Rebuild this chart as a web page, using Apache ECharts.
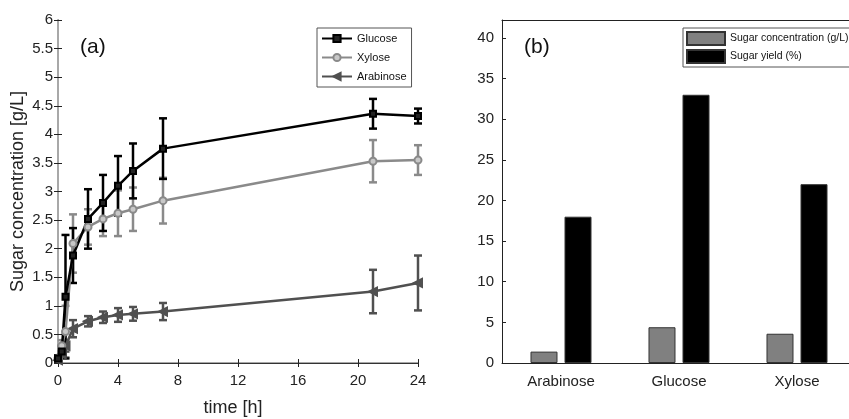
<!DOCTYPE html>
<html>
<head>
<meta charset="utf-8">
<script src="https://cdn.jsdelivr.net/npm/echarts@6/dist/echarts.min.js"></script>
<style>
  html, body { margin: 0; padding: 0; background: #fff; }
  #chart { width: 849px; height: 419px; }
</style>
</head>
<body>
<div id="chart"></div>
<script>
// time course (panel a)
var times = [0, 0.25, 0.5, 1, 2, 3, 4, 5, 7, 21, 24];
var glucose = [0.08, 0.2, 1.16, 1.88, 2.52, 2.80, 3.10, 3.36, 3.75, 4.36, 4.32];
var glucoseErr = [0.05, 0.1, 1.08, 0.48, 0.52, 0.49, 0.52, 0.48, 0.53, 0.26, 0.13];
var xylose = [0.08, 0.3, 0.55, 2.09, 2.38, 2.52, 2.62, 2.69, 2.84, 3.53, 3.55];
var xyloseErr = [0.05, 0.1, 0.45, 0.51, 0.31, 0.3, 0.4, 0.38, 0.4, 0.37, 0.26];
var arabinose = [0.05, 0.15, 0.3, 0.6, 0.73, 0.80, 0.84, 0.86, 0.90, 1.25, 1.40];
var arabinoseErr = [0.03, 0.05, 0.1, 0.15, 0.09, 0.1, 0.12, 0.12, 0.15, 0.38, 0.48];

// panel b
var sugars = ['Arabinose', 'Glucose', 'Xylose'];
var sugarConc = [1.4, 4.4, 3.6];
var sugarYield = [18, 33, 22];

var FONT = 'Liberation Sans, Arial, Helvetica, sans-serif';
var chart = echarts.init(document.getElementById('chart'));

function pairs(ys) {
  return times.map(function (t, i) { return [t, ys[i]]; });
}
function errData(ys, es) {
  return times.map(function (t, i) { return [t, ys[i] - es[i], ys[i] + es[i]]; });
}
function errSeries(ys, es, color) {
  return {
    type: 'custom',
    xAxisIndex: 0, yAxisIndex: 0,
    data: errData(ys, es),
    encode: { x: 0, y: [1, 2] },
    z: 3,
    renderItem: function (params, api) {
      var lo = api.coord([api.value(0), api.value(1)]);
      var hi = api.coord([api.value(0), api.value(2)]);
      var w = 4;
      var st = { stroke: color, lineWidth: 2.5 };
      return {
        type: 'group',
        children: [
          { type: 'line', shape: { x1: lo[0], y1: lo[1], x2: hi[0], y2: hi[1] }, style: st },
          { type: 'line', shape: { x1: lo[0] - w, y1: lo[1], x2: lo[0] + w, y2: lo[1] }, style: st },
          { type: 'line', shape: { x1: hi[0] - w, y1: hi[1], x2: hi[0] + w, y2: hi[1] }, style: st }
        ]
      };
    }
  };
}
function lineSeries(name, ys, color, symbol, size, rot, fill) {
  return {
    name: name, type: 'line', xAxisIndex: 0, yAxisIndex: 0,
    data: pairs(ys), symbol: symbol, symbolSize: size, symbolRotate: rot,
    showAllSymbol: true, z: 4,
    lineStyle: { color: color, width: 2.5 },
    itemStyle: { color: fill, borderColor: color, borderWidth: 2 }
  };
}

var tickLabel = { fontFamily: FONT, fontSize: 15, color: '#222' };

chart.setOption({
  animation: false,
  grid: [
    { left: 58, right: 431, top: 20, bottom: 56, outerBoundsMode: 'none' },
    { left: 502, right: -7, top: 20, bottom: 56, outerBoundsMode: 'none' }
  ],
  xAxis: [
    { type: 'value', gridIndex: 0, min: 0, max: 24, interval: 4, position: 'bottom',
      name: 'time [h]', nameLocation: 'middle', nameGap: 36,
      nameTextStyle: { fontFamily: FONT, fontSize: 18, color: '#222', padding: [0, 10, 0, 0] },
      axisLine: { lineStyle: { color: '#a8a8a8', width: 2 } },
      axisTick: { inside: true, length: 4, lineStyle: { color: '#222' } },
      axisLabel: Object.assign({ margin: 10 }, tickLabel), splitLine: { show: false } },
    { type: 'value', gridIndex: 0, min: 0, max: 24, interval: 4, position: 'top',
      axisLine: { lineStyle: { color: '#333' } },
      axisTick: { inside: true, length: 4, lineStyle: { color: '#222' } },
      axisLabel: { show: false }, splitLine: { show: false } },
    { type: 'category', gridIndex: 1, data: sugars, position: 'bottom',
      axisLine: { lineStyle: { color: '#222' } },
      axisTick: { inside: true, alignWithLabel: true, length: 4, lineStyle: { color: '#222' } },
      axisLabel: Object.assign({ margin: 11 }, tickLabel) },
    { type: 'category', gridIndex: 1, data: sugars, position: 'top',
      axisLine: { lineStyle: { color: '#222' } },
      axisTick: { inside: true, alignWithLabel: true, length: 4, lineStyle: { color: '#222' } },
      axisLabel: { show: false } }
  ],
  yAxis: [
    { type: 'value', gridIndex: 0, min: 0, max: 6, interval: 0.5, position: 'left',
      name: 'Sugar concentration [g/L]', nameLocation: 'middle', nameGap: 31,
      nameTextStyle: { fontFamily: FONT, fontSize: 18, color: '#222' },
      axisLine: { show: true, lineStyle: { color: '#222' } },
      axisTick: { show: true, inside: true, length: 4, lineStyle: { color: '#222' } },
      axisLabel: Object.assign({ margin: 5 }, tickLabel), splitLine: { show: false } },
    { type: 'value', gridIndex: 0, min: 0, max: 6, interval: 0.5, position: 'right',
      axisLine: { show: true, lineStyle: { color: '#a8a8a8', width: 2 } },
      axisTick: { show: true, inside: true, length: 4, lineStyle: { color: '#222' } },
      axisLabel: { show: false }, splitLine: { show: false } },
    { type: 'value', gridIndex: 1, min: 0, max: 42.2, interval: 5, position: 'left',
      axisLine: { show: true, lineStyle: { color: '#222' } },
      axisTick: { show: true, inside: true, length: 4, lineStyle: { color: '#222' } },
      axisLabel: Object.assign({ margin: 8, showMaxLabel: false }, tickLabel), splitLine: { show: false } }
  ],
  legend: [
    { data: ['Glucose', 'Xylose', 'Arabinose'], orient: 'vertical',
      left: 317, top: 28, itemWidth: 30, itemHeight: 9, itemGap: 8,
      padding: [5, 5, 5, 4],
      backgroundColor: '#fff', borderColor: '#555', borderWidth: 1,
      textStyle: { fontFamily: FONT, fontSize: 11, color: '#111' } },
    { data: ['Sugar concentration (g/L)', 'Sugar yield (%)'], orient: 'vertical',
      left: 683, top: 28, itemWidth: 38, itemHeight: 13, itemGap: 3, icon: 'rect',
      padding: [3, 4, 3, 3],
      backgroundColor: '#fff', borderColor: '#555', borderWidth: 1,
      textStyle: { fontFamily: FONT, fontSize: 10.5, color: '#111' } }
  ],
  graphic: [
    { type: 'text', left: 80, top: 37, style: { text: '(a)', font: '21px ' + FONT, fill: '#111' } },
    { type: 'text', left: 524, top: 37, style: { text: '(b)', font: '21px ' + FONT, fill: '#111' } }
  ],
  series: [
    errSeries(arabinose, arabinoseErr, '#505050'),
    errSeries(xylose, xyloseErr, '#8a8a8a'),
    errSeries(glucose, glucoseErr, '#000'),
    lineSeries('Arabinose', arabinose, '#505050', 'triangle', 8, 90, '#505050'),
    lineSeries('Xylose', xylose, '#8a8a8a', 'circle', 7, 0, '#c8c8c8'),
    lineSeries('Glucose', glucose, '#000', 'rect', 6, 0, '#222'),
    { name: 'Sugar concentration (g/L)', type: 'bar', xAxisIndex: 2, yAxisIndex: 2,
      data: sugarConc, barWidth: 27, barGap: '26%',
      itemStyle: { color: '#808080', borderColor: '#333', borderWidth: 1 } },
    { name: 'Sugar yield (%)', type: 'bar', xAxisIndex: 2, yAxisIndex: 2,
      data: sugarYield, barWidth: 27,
      itemStyle: { color: '#000', borderColor: '#333', borderWidth: 1 } }
  ]
});
</script>
</body>
</html>
